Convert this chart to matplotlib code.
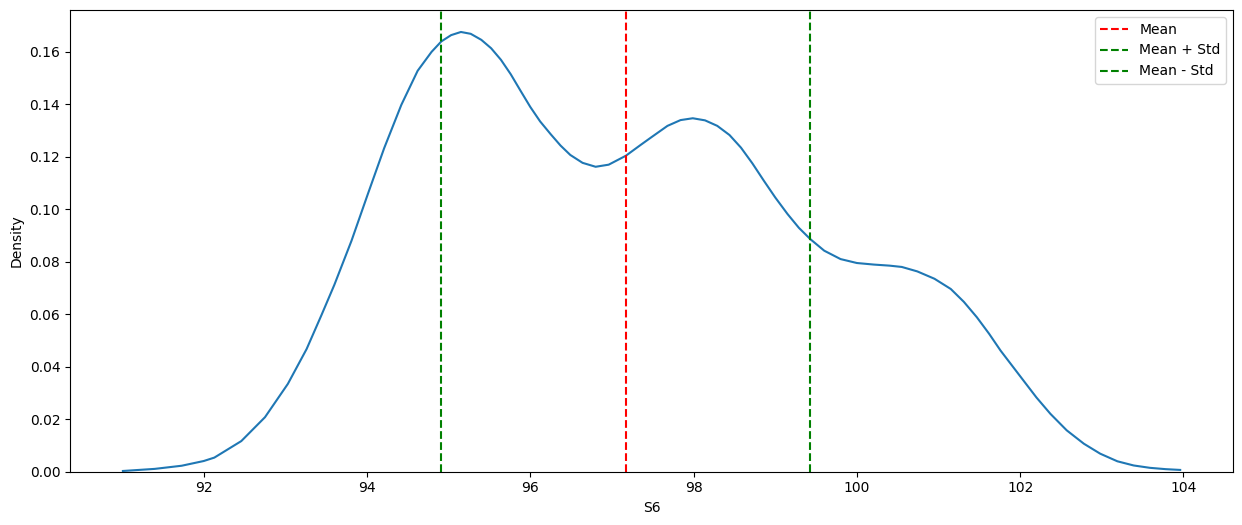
import matplotlib
matplotlib.use("Agg")
import matplotlib.pyplot as plt

# KDE curve of S6
s6_x = [91.01, 91.4, 91.73, 92.0, 92.13, 92.46, 92.75, 93.03, 93.26, 93.44, 93.6,
        93.81, 94.01, 94.21, 94.42, 94.62, 94.79, 94.91, 95.03, 95.15, 95.27, 95.4,
        95.52, 95.64, 95.76, 95.88, 96.0, 96.12, 96.25, 96.37, 96.49, 96.64, 96.8,
        96.96, 97.17, 97.35, 97.48, 97.68, 97.84, 97.99, 98.14, 98.29, 98.44, 98.58,
        98.72, 98.86, 99.0, 99.15, 99.29, 99.43, 99.6, 99.8, 100.0, 100.21, 100.4,
        100.55, 100.74, 100.95, 101.15, 101.31, 101.47, 101.62, 101.76, 101.9, 102.04,
        102.2, 102.37, 102.57, 102.78, 102.98, 103.19, 103.39, 103.59, 103.78, 103.96]
s6_density = [0.0002, 0.0010, 0.0022, 0.0040, 0.0053, 0.0116, 0.0207, 0.0334, 0.0467, 0.0595, 0.0712,
              0.0880, 0.1058, 0.1233, 0.1398, 0.1528, 0.1600, 0.1640, 0.1664, 0.1676, 0.1669, 0.1646,
              0.1614, 0.1570, 0.1515, 0.1452, 0.1390, 0.1335, 0.1286, 0.1243, 0.1207, 0.1177, 0.1162,
              0.1170, 0.1204, 0.1245, 0.1274, 0.1318, 0.1340, 0.1347, 0.1339, 0.1318, 0.1283, 0.1235,
              0.1175, 0.1109, 0.1045, 0.0982, 0.0929, 0.0886, 0.0842, 0.0810, 0.0795, 0.0789, 0.0785,
              0.0780, 0.0763, 0.0735, 0.0696, 0.0647, 0.0588, 0.0525, 0.0461, 0.0404, 0.0347,
              0.0282, 0.0220, 0.0157, 0.0106, 0.0068, 0.0039, 0.0023, 0.0014, 0.0009, 0.0006]

mean_val = 97.17
std_val = 2.26

fig = plt.figure(figsize=(12.42, 5.25), dpi=100)
ax = fig.add_axes([0.0564, 0.1019, 0.9364, 0.879])

ax.plot(s6_x, s6_density, color="#1f77b4", linewidth=1.5)
ax.axvline(mean_val, color="red", linestyle="--", label="Mean")
ax.axvline(mean_val + std_val, color="green", linestyle="--", label="Mean + Std")
ax.axvline(mean_val - std_val, color="green", linestyle="--", label="Mean - Std")

ax.set_ylim(bottom=0)
ax.set_xlabel("S6")
ax.set_ylabel("Density")
ax.legend(loc="upper right")

fig.savefig("out.png", dpi=100)
